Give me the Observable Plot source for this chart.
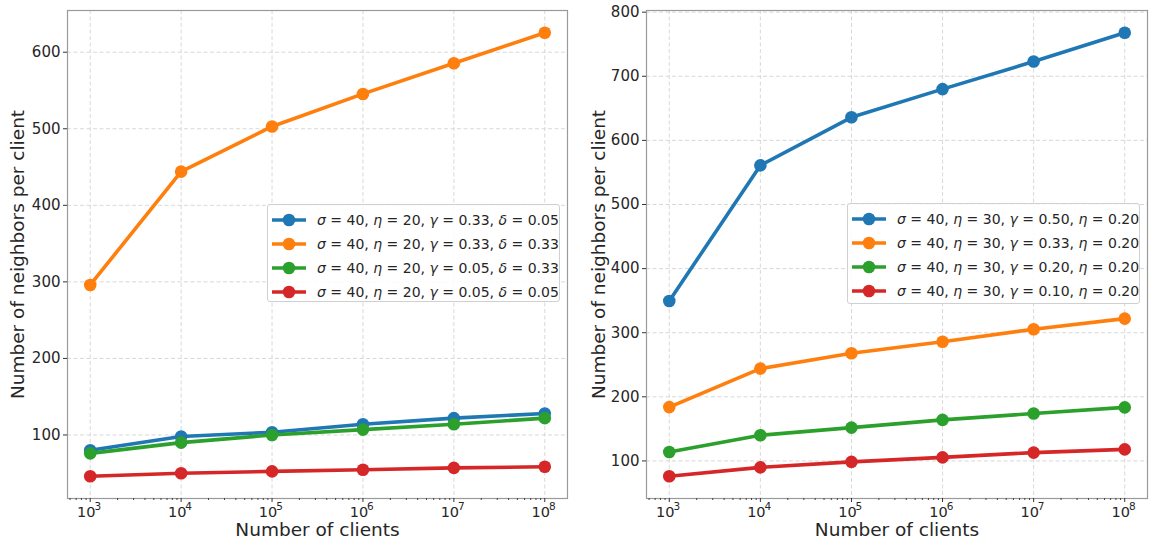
<!DOCTYPE html>
<html>
<head>
<meta charset="utf-8">
<script src="https://cdn.jsdelivr.net/npm/d3@7"></script>
<script src="https://cdn.jsdelivr.net/npm/@observablehq/plot@0.6"></script>
<style>
  html, body { margin: 0; padding: 0; background: #fff; }
  #wrap { position: relative; width: 1156px; height: 558px; overflow: hidden; font-family: "DejaVu Sans", sans-serif; color: #262626; }
  .panel { position: absolute; top: 0; }
  .legend { position: absolute; box-sizing: border-box; border: 1px solid #d0d0d0; border-radius: 3px; background: rgba(255,255,255,0.85); padding: 3px 0 0 4px; }
  .row { height: 24px; display: flex; align-items: center; white-space: nowrap; font-size: 14px; color: #262626; }
  .row svg { margin-right: 11px; flex: none; }
  .row i { font-style: italic; }
</style>
</head>
<body>
<div id="wrap"></div>
<script>
// ---------- data ----------
const clients = [1e3, 1e4, 1e5, 1e6, 1e7, 1e8];
const exponents = ["3", "4", "5", "6", "7", "8"];
const colors = ["#1f77b4", "#ff7f0e", "#2ca02c", "#d62728"];

const leftLabels = [
  ["σ", "40", "η", "20", "γ", "0.33", "δ", "0.05"],
  ["σ", "40", "η", "20", "γ", "0.33", "δ", "0.33"],
  ["σ", "40", "η", "20", "γ", "0.05", "δ", "0.33"],
  ["σ", "40", "η", "20", "γ", "0.05", "δ", "0.05"]
];
const leftBlue   = [80, 98, 103.5, 114, 122, 128];
const leftOrange = [296, 444, 503, 545.5, 585.5, 625.5];
const leftGreen  = [76, 90, 100, 107, 114, 122];
const leftRed    = [46, 50, 52.5, 54.5, 57, 58.5];

const rightLabels = [
  ["σ", "40", "η", "30", "γ", "0.50", "η", "0.20"],
  ["σ", "40", "η", "30", "γ", "0.33", "η", "0.20"],
  ["σ", "40", "η", "30", "γ", "0.20", "η", "0.20"],
  ["σ", "40", "η", "30", "γ", "0.10", "η", "0.20"]
];
const rightBlue   = [349.5, 561, 636, 680, 723, 768];
const rightOrange = [184, 244, 268, 286, 305.5, 322];
const rightGreen  = [114, 140, 152, 164, 174, 183.5];
const rightRed    = [76, 90, 98.5, 105.5, 113, 118];

const yTicksLeft  = [100, 200, 300, 400, 500, 600];
const yTicksRight = [100, 200, 300, 400, 500, 600, 700, 800];
const xLabel = "Number of clients";
const yLabel = "Number of neighbors per client";

// ---------- helpers ----------
const minorTicks = [];
for (let e = 2; e <= 8; e++) for (let m = 2; m <= 9; m++) minorTicks.push(m * Math.pow(10, e));

function panel(seriesList, yTicks, opts) {
  const rows = [];
  seriesList.forEach((vals, si) => vals.forEach((v, i) => rows.push({s: si, x: clients[i], y: v})));
  const all = rows.map(r => r.y);
  const lo = d3.min(all), hi = d3.max(all), pad = (hi - lo) * 0.05;
  const tickRows = clients.map((c, i) => ({x: c, e: exponents[i]}));
  const marks = [
    Plot.gridX(clients, {stroke: "#d4d4d4", strokeOpacity: 1, strokeDasharray: "4,2.5", strokeWidth: 0.9}),
    Plot.gridY(yTicks, {stroke: "#d4d4d4", strokeOpacity: 1, strokeDasharray: "4,2.5", strokeWidth: 0.9}),
    Plot.frame({stroke: "#9a9a9a", strokeWidth: 1.2}),
    Plot.axisX(minorTicks.filter(t => t > 10 ** 2.75 && t < 10 ** 8.25), {tickSize: 2, fill: "none", label: null, stroke: "#444"}),
    Plot.axisX(clients, {tickSize: 4, fill: "none", label: null, stroke: "#333"}),
    Plot.text(tickRows, {x: "x", text: () => "10", frameAnchor: "bottom", lineAnchor: "middle", textAnchor: "middle", dx: -4, dy: 13.5, fontSize: 14.5, fill: "#262626"}),
    Plot.text(tickRows, {x: "x", text: "e", frameAnchor: "bottom", lineAnchor: "middle", textAnchor: "middle", dx: 7.5, dy: 8.5, fontSize: 10.5, fill: "#262626"}),
    Plot.axisY(yTicks, {tickSize: 4, tickPadding: 3, fontSize: 15, label: null, stroke: "#333", fill: "#262626"}),
  ];
  seriesList.forEach((vals, si) => {
    const d = rows.filter(r => r.s === si);
    marks.push(Plot.line(d, {x: "x", y: "y", stroke: colors[si], strokeWidth: 3.6}));
    marks.push(Plot.dot(d, {x: "x", y: "y", r: 6.3, fill: colors[si], stroke: "none"}));
  });
  marks.push(Plot.text([xLabel], {frameAnchor: "bottom", lineAnchor: "middle", textAnchor: "middle", dy: 32, fontSize: 18.5, fill: "#262626"}));
  marks.push(Plot.text([yLabel], {frameAnchor: "left", lineAnchor: "middle", textAnchor: "middle", rotate: -90, dx: opts.yLabelDx, fontSize: 18.5, fill: "#262626"}));
  return Plot.plot({
    width: 578, height: 558,
    marginLeft: opts.ml, marginRight: opts.mr, marginTop: 10, marginBottom: 60,
    style: {fontFamily: "DejaVu Sans", color: "#262626", background: "transparent", overflow: "visible"},
    x: {type: "log", domain: [10 ** 2.75, 10 ** 8.25], axis: null, label: null},
    y: {domain: [lo - pad, hi + pad], axis: null, label: null},
    marks
  });
}

function legend(labels, left, top, width, height) {
  const div = document.createElement("div");
  div.className = "legend";
  Object.assign(div.style, {left: left + "px", top: top + "px", width: width + "px", height: height + "px"});
  labels.forEach((lab, i) => {
    const row = document.createElement("div");
    row.className = "row";
    row.innerHTML =
      `<svg width="34" height="14"><line x1="0" y1="7" x2="34" y2="7" stroke="${colors[i]}" stroke-width="3.6"/><circle cx="17" cy="7" r="6.3" fill="${colors[i]}"/></svg>` +
      `<span><i>${lab[0]}</i> = ${lab[1]}, <i>${lab[2]}</i> = ${lab[3]}, <i>${lab[4]}</i> = ${lab[5]}, <i>${lab[6]}</i> = ${lab[7]}</span>`;
    div.appendChild(row);
  });
  return div;
}

const wrap = document.getElementById("wrap");
const p1 = panel([leftBlue, leftOrange, leftGreen, leftRed], yTicksLeft, {ml: 67, mr: 11, yLabelDx: -49});
p1.classList.add("panel"); p1.style.left = "0px";
const p2 = panel([rightBlue, rightOrange, rightGreen, rightRed], yTicksRight, {ml: 68, mr: 9, yLabelDx: -47});
p2.classList.add("panel"); p2.style.left = "578px";
wrap.appendChild(p1);
wrap.appendChild(p2);
wrap.appendChild(legend(leftLabels, 267, 204, 293, 98));
wrap.appendChild(legend(rightLabels, 847, 203, 293, 101));
</script>
</body>
</html>
